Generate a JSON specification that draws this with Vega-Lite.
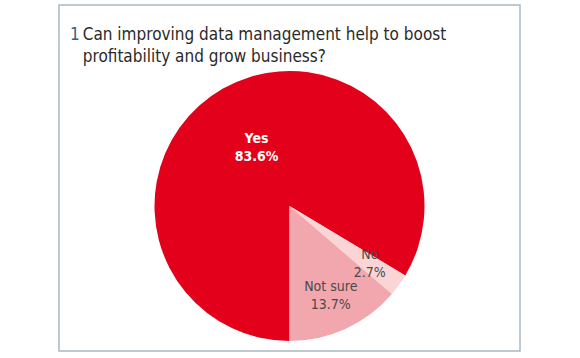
{
  "$schema": "https://vega.github.io/schema/vega-lite/v6.json",
  "autosize": {"type": "none"},
  "padding": {"left": 59, "top": 5, "right": 60, "bottom": 7},
  "width": 461,
  "height": 346,
  "background": "white",
  "view": {"stroke": "#aab8c4", "strokeWidth": 1.5, "fill": "white"},
  "config": {
    "font": "Liberation Sans Narrow, DejaVu Sans Condensed, sans-serif"
  },
  "title": {
    "text": "1",
    "subtitle": ["\u200b\u00a0\u00a0\u2009Can improving data management help to boost", "\u200b\u00a0\u00a0\u2009profitability and grow business?"],
    "orient": "top",
    "anchor": "start",
    "frame": "group",
    "dx": 11,
    "offset": -61,
    "font": "Liberation Sans Narrow, DejaVu Sans Condensed, sans-serif",
    "fontSize": 17,
    "fontWeight": "normal",
    "color": "#35607f",
    "subtitleFont": "Liberation Sans Narrow, DejaVu Sans Condensed, sans-serif",
    "subtitleFontSize": 17,
    "subtitleColor": "#2a2a2a",
    "subtitleLineHeight": 22,
    "subtitlePadding": -17
  },
  "data": {
    "values": [
      {"answer": "Yes", "share": 83.6, "pct": "83.6%"},
      {"answer": "No", "share": 2.7, "pct": "2.7%"},
      {"answer": "Not sure", "share": 13.7, "pct": "13.7%"}
    ]
  },
  "encoding": {
    "theta": {"field": "share", "type": "quantitative", "stack": true, "scale": {"range": [2.1112, 8.3944]}},
    "order": {"field": "answer", "type": "nominal", "sort": "ascending"}
  },
  "layer": [
    {
      "mark": {"type": "arc", "outerRadius": 135, "yOffset": 28},
      "encoding": {
        "color": {
          "field": "answer", "type": "nominal", "legend": null,
          "scale": {"domain": ["Yes", "No", "Not sure"], "range": ["#e2001a", "#fbd5d6", "#f2a6ad"]}
        }
      }
    },
    {
      "mark": {"type": "text", "radius": 67, "yOffset": 28, "dy": -9, "fontSize": 14, "fontWeight": "bold", "color": "white"},
      "encoding": {
        "text": {"condition": {"test": "datum.answer == 'Yes'", "field": "answer"}, "value": ""}
      }
    },
    {
      "mark": {"type": "text", "radius": 67, "yOffset": 28, "dy": 9, "fontSize": 14, "fontWeight": "bold", "color": "white"},
      "encoding": {
        "text": {"condition": {"test": "datum.answer == 'Yes'", "field": "pct"}, "value": ""}
      }
    },
    {
      "mark": {"type": "text", "radius": 99, "yOffset": 28, "dy": -9, "fontSize": 14, "color": "#4a4a4a"},
      "encoding": {
        "text": {"condition": {"test": "datum.answer != 'Yes'", "field": "answer"}, "value": ""}
      }
    },
    {
      "mark": {"type": "text", "radius": 99, "yOffset": 28, "dy": 9, "fontSize": 14, "color": "#4a4a4a"},
      "encoding": {
        "text": {"condition": {"test": "datum.answer != 'Yes'", "field": "pct"}, "value": ""}
      }
    }
  ]
}
